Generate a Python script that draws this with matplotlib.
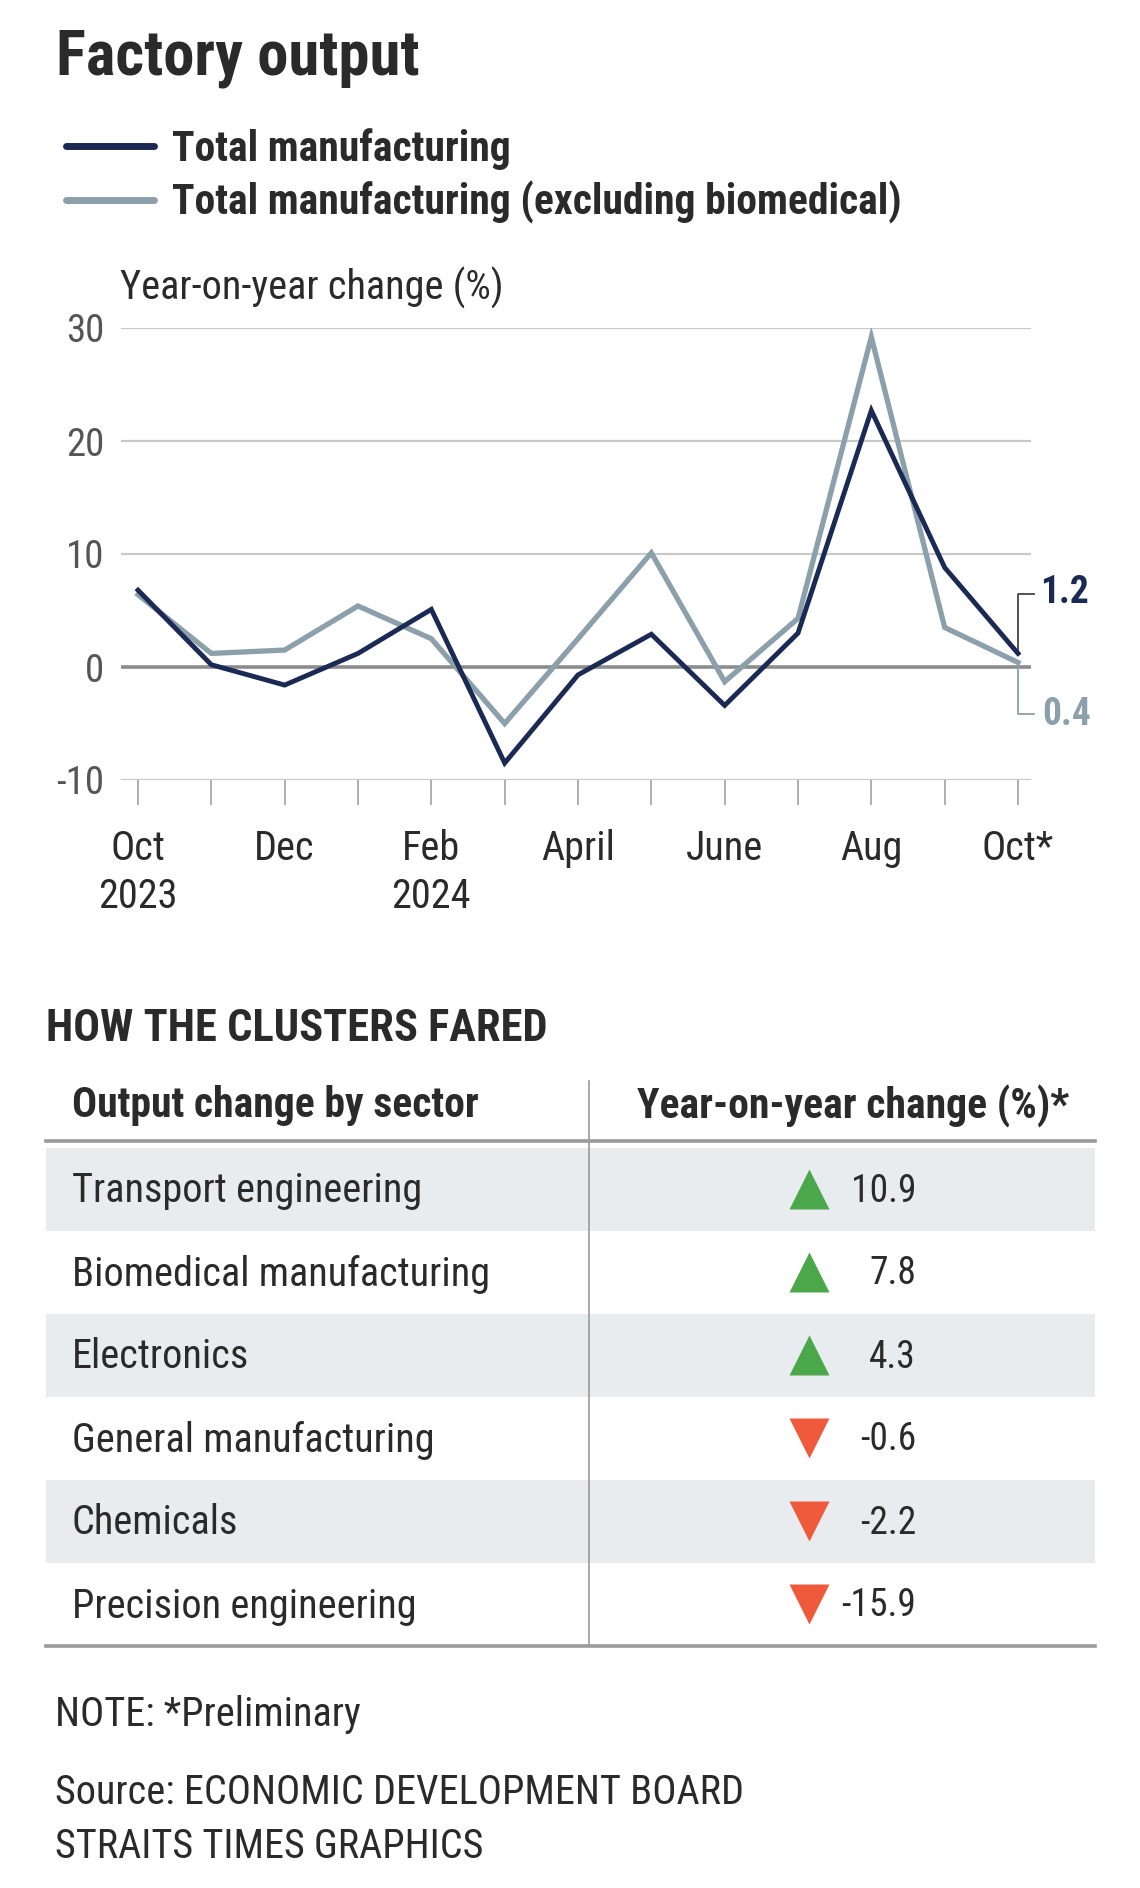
import matplotlib
matplotlib.use('Agg')
import matplotlib.pyplot as plt
from matplotlib import font_manager


def pick_font(names):
    avail = {f.name for f in font_manager.fontManager.ttflist}
    for n in names:
        if n in avail:
            return n
    return 'DejaVu Sans'


FONT = pick_font(['Roboto Condensed', 'Liberation Sans Narrow', 'DejaVu Sans Condensed', 'Roboto'])
plt.rcParams['font.family'] = [FONT, 'DejaVu Sans']

# --- data ---
month_idx = list(range(13))
tick_labels = ['Oct', 'Dec', 'Feb', 'April', 'June', 'Aug', 'Oct*']
tick_years = ['2023', '', '2024', '', '', '', '']
total_mfg = [6.8, 0.2, -1.6, 1.2, 5.1, -8.5, -0.7, 2.9, -3.4, 3.0, 22.7, 8.8, 1.2]
excl_biomed = [6.4, 1.2, 1.5, 5.4, 2.5, -5.0, 2.5, 10.1, -1.3, 4.3, 29.2, 3.5, 0.4]
y_ticks = [-10, 0, 10, 20, 30]

sectors = ['Transport engineering', 'Biomedical manufacturing', 'Electronics',
           'General manufacturing', 'Chemicals', 'Precision engineering']
sector_change = [10.9, 7.8, 4.3, -0.6, -2.2, -15.9]

# --- style ---
W, H = 1140, 1888
DARK = '#1b2a55'
LIGHT = '#8ba0ab'
TEXT = '#2a2a2a'
GREY = '#555555'
FS = 29      # body text
FSB = 30     # bold headers

fig = plt.figure(figsize=(W / 100, H / 100), dpi=100)


def fx(x):
    return x / W


def fy(y):
    return 1 - y / H


# chart axes: grid spans x 121..1031 px, y 328 (30) .. 780 (-10)
ax = fig.add_axes([fx(121), fy(780), (1031 - 121) / W, (780 - 328) / H])
ppu = (1018 - 138) / 12
ax.set_xlim(-(138 - 121) / ppu, 12 + (1031 - 1018) / ppu)
ax.set_ylim(-10, 30)
for s in ax.spines.values():
    s.set_visible(False)

for v in y_ticks:
    if v == 0:
        ax.axhline(v, color='#8c8c8c', lw=2.6, zorder=1)
    else:
        ax.axhline(v, color='#c9c9c9', lw=1.6, zorder=1)

l2, = ax.plot(month_idx, excl_biomed, color=LIGHT, lw=3.8, zorder=3,
              label='Total manufacturing (excluding biomedical)', solid_joinstyle='miter')
l1, = ax.plot(month_idx, total_mfg, color=DARK, lw=3.5, zorder=4,
              label='Total manufacturing', solid_joinstyle='miter')

ax.set_yticks(y_ticks)
ax.set_yticklabels([str(v) for v in y_ticks], fontsize=28, color=GREY)
ax.tick_params(axis='y', length=0, pad=12)
ax.set_xticks(month_idx)
ax.set_xticklabels([])
ax.tick_params(axis='x', length=18, width=1.1, color='#9a9a9a', direction='out')

# end labels
ax.plot([12, 12, 12.22], [total_mfg[-1], 6.5, 6.5], color='#444444', lw=1.3, clip_on=False)
ax.plot([12, 12, 12.22], [excl_biomed[-1], -4.2, -4.2], color=LIGHT, lw=1.3, clip_on=False)
ax.text(12.30, 6.6, f'{total_mfg[-1]:.1f}', color=DARK, fontsize=27, fontweight='bold',
        ha='left', va='center')
ax.text(12.33, -4.2, f'{excl_biomed[-1]:.1f}', color=LIGHT, fontsize=27, fontweight='bold',
        ha='left', va='center')

# overlay in pixel coordinates
ov = fig.add_axes([0, 0, 1, 1], zorder=-1)
ov.set_xlim(0, W)
ov.set_ylim(H, 0)
ov.axis('off')

for i, (lab, yr) in enumerate(zip(tick_labels, tick_years)):
    xd = month_idx[i * 2]
    xp = 138 + xd * ppu
    ov.text(xp, 849, lab, fontsize=FS, color=TEXT, ha='center', va='center')
    if yr:
        ov.text(xp, 896, yr, fontsize=FS, color=TEXT, ha='center', va='center')

ov.text(56, 58, 'Factory output', fontsize=45, fontweight='bold', color=TEXT,
        ha='left', va='center')
ov.text(120, 288, 'Year-on-year change (%)', fontsize=FS, color=TEXT, ha='left', va='center')

leg = ax.legend(handles=[l1, l2], loc='upper left', bbox_to_anchor=(fx(66), fy(128)),
                bbox_transform=fig.transFigure, frameon=False, borderpad=0, borderaxespad=0,
                handlelength=2.1, handletextpad=0.45, labelspacing=0.26,
                prop={'size': FSB, 'weight': 'bold'})
for t in leg.get_texts():
    t.set_color(TEXT)
for h in leg.get_lines():
    h.set_linewidth(5)
    h.set_solid_capstyle('round')

# table
ov.text(46, 1029, 'HOW THE CLUSTERS FARED', fontsize=32, fontweight='bold', color=TEXT,
        ha='left', va='center')
ov.text(72, 1106, 'Output change by sector', fontsize=FSB, fontweight='bold', color=TEXT,
        ha='left', va='center')
ov.text(853, 1106, 'Year-on-year change (%)*', fontsize=FSB, fontweight='bold', color=TEXT,
        ha='center', va='center')

row_h = 83
row0 = 1189
for i, (name, val) in enumerate(zip(sectors, sector_change)):
    yc = row0 + i * row_h
    if i % 2 == 0:
        ov.axhspan(yc - row_h / 2, yc + row_h / 2, xmin=fx(46), xmax=fx(1095),
                   color='#e9ecee', lw=0, zorder=0)
    ov.text(72, yc + 2, name, fontsize=FS, color=TEXT, ha='left', va='center')
    up = val >= 0
    ov.plot(809, yc, marker='^' if up else 'v', markersize=29,
            color='#4aa84a' if up else '#f05a3c', mec='none')
    ov.text(916, yc + 2, f'{val:.1f}', fontsize=27, color=TEXT, ha='right', va='center')

ov.plot([46, 1095], [1141, 1141], color='#9a9a9a', lw=2.6)
ov.plot([46, 1095], [row0 + 5.5 * row_h, row0 + 5.5 * row_h], color='#9a9a9a', lw=2.6)
ov.plot([589, 589], [1081, row0 + 5.5 * row_h], color='#9a9a9a', lw=1.2)

ov.text(55, 1714, 'NOTE: *Preliminary', fontsize=FS, color=TEXT, ha='left', va='center')
ov.text(55, 1793, 'Source: ECONOMIC DEVELOPMENT BOARD', fontsize=FS, color=TEXT,
        ha='left', va='center')
ov.text(55, 1846, 'STRAITS TIMES GRAPHICS', fontsize=FS, color=TEXT, ha='left', va='center')

fig.savefig('out.png', dpi=100)
